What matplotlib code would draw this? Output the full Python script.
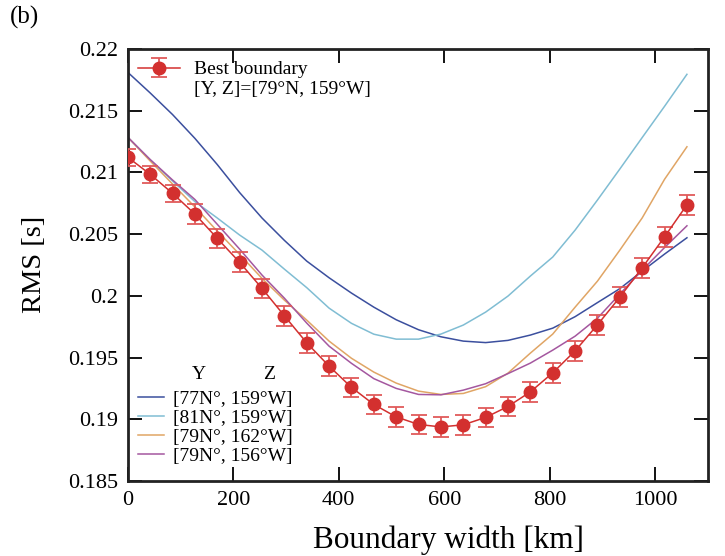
import matplotlib
matplotlib.use("Agg")
import matplotlib.pyplot as plt
from matplotlib.lines import Line2D

plt.rcParams['font.family'] = ['Liberation Serif', 'DejaVu Serif']
plt.rcParams['mathtext.fontset'] = 'stix'

width_km = [0, 42.4, 84.8, 127.2, 169.6, 212.0, 254.4, 296.8, 339.2, 381.6,
            424.0, 466.4, 508.8, 551.2, 593.6, 636.0, 678.4, 720.8, 763.2, 805.6,
            848.0, 890.4, 932.8, 975.2, 1017.6, 1060.0]

best_rms = [0.21122, 0.20984, 0.20830, 0.20662, 0.20465, 0.20271, 0.20060, 0.19838,
            0.19619, 0.19430, 0.19258, 0.19120, 0.19019, 0.18958, 0.18938, 0.18955,
            0.19015, 0.19104, 0.19222, 0.19376, 0.19554, 0.19765, 0.19989, 0.20227,
            0.20478, 0.20737]
best_err = [0.0007, 0.0007, 0.0007, 0.0008, 0.0008, 0.0008, 0.0008, 0.0008, 0.0008,
            0.0008, 0.0008, 0.0008, 0.0008, 0.0008, 0.0008, 0.0008, 0.0008, 0.0008,
            0.0008, 0.0008, 0.0008, 0.0008, 0.0008, 0.0008, 0.0008, 0.0008]

rms_77N_159W = [0.21810, 0.21643, 0.21468, 0.21275, 0.21063, 0.20836, 0.20630, 0.20449,
                0.20281, 0.20146, 0.20022, 0.19908, 0.19806, 0.19725, 0.19668, 0.19633,
                0.19621, 0.19639, 0.19682, 0.19738, 0.19831, 0.19945, 0.20058, 0.20200,
                0.20338, 0.20470]
rms_81N_159W = [0.21284, 0.21100, 0.20930, 0.20763, 0.20630, 0.20492, 0.20370, 0.20216,
                0.20066, 0.19900, 0.19777, 0.19689, 0.19649, 0.19649, 0.19690, 0.19763,
                0.19868, 0.19998, 0.20160, 0.20314, 0.20532, 0.20776, 0.21027, 0.21282,
                0.21535, 0.21794]
rms_79N_162W = [0.21284, 0.21092, 0.20905, 0.20719, 0.20524, 0.20335, 0.20141, 0.19965,
                0.19803, 0.19633, 0.19494, 0.19382, 0.19293, 0.19228, 0.19201, 0.19209,
                0.19264, 0.19374, 0.19536, 0.19690, 0.19908, 0.20119, 0.20370, 0.20631,
                0.20944, 0.21207]
rms_79N_156W = [0.21284, 0.21104, 0.20938, 0.20780, 0.20579, 0.20378, 0.20168, 0.19981,
                0.19779, 0.19592, 0.19453, 0.19329, 0.19250, 0.19201, 0.19198, 0.19236,
                0.19288, 0.19370, 0.19455, 0.19560, 0.19673, 0.19819, 0.20014, 0.20208,
                0.20391, 0.20567]

curve_labels = ['[77N°, 159°W]', '[81N°, 159°W]', '[79N°, 162°W]', '[79N°, 156°W]']
curve_colors = ['#3b4f9e', '#80bdd3', '#e0a565', '#a4579f']
best_label_lines = ['Best boundary', '[Y, Z]=[79°N, 159°W]']
legend_title_parts = ['Y', 'Z']

x_ticks = [0, 200, 400, 600, 800, 1000]
y_ticks = [0.185, 0.19, 0.195, 0.2, 0.205, 0.21, 0.215, 0.22]
y_ticklabels = ['0.185', '0.19', '0.195', '0.2', '0.205', '0.21', '0.215', '0.22']

fig = plt.figure(figsize=(7.25, 5.56), dpi=100)
ax = fig.add_axes([0.1763, 0.1349, 0.8003, 0.7772])

curves = [rms_77N_159W, rms_81N_159W, rms_79N_162W, rms_79N_156W]
line_handles = []
for vals, lab, col in zip(curves, curve_labels, curve_colors):
    h, = ax.plot(width_km, vals, color=col, lw=1.1, label=lab)
    line_handles.append(h)

eb = ax.errorbar(width_km, best_rms, yerr=best_err, color='#d3302f', ecolor='#e05a5a',
                 marker='o', markersize=9, lw=1.1, elinewidth=1.3, capsize=5.5,
                 capthick=1.3, zorder=5)

ax.set_xlim(0, 1100)
ax.set_ylim(0.185, 0.22)
ax.set_xticks(x_ticks)
ax.set_yticks(y_ticks)
ax.set_yticklabels(y_ticklabels)
ax.tick_params(direction='in', length=10, width=1.3, top=True, right=True,
               labelsize=16, pad=7)
for s in ax.spines.values():
    s.set_linewidth(2.0)
    s.set_color('#222222')

ax.set_xlabel('Boundary width [km]', fontsize=22.5)
ax.xaxis.set_label_coords(0.553, -0.102)
ax.set_ylabel('RMS [s]', fontsize=20.5)
ax.yaxis.set_label_coords(-0.139, 0.502)

blank = Line2D([], [], linestyle='none', marker=None, visible=False)
leg1 = ax.legend(handles=[eb, blank], labels=best_label_lines, loc='upper left',
                 frameon=False, fontsize=14, bbox_to_anchor=(-0.0126, 1.013),
                 handlelength=2.16, handletextpad=0.72, labelspacing=0.12)
ax.add_artist(leg1)

leg2 = ax.legend(handles=line_handles, loc='lower left', frameon=False, fontsize=14,
                 bbox_to_anchor=(-0.012, -0.003), handlelength=1.3, handletextpad=0.5,
                 labelspacing=0.07)
ax.text(0.1227, 0.247, legend_title_parts[0], transform=ax.transAxes, fontsize=14,
        ha='center', va='center')
ax.text(0.2434, 0.247, legend_title_parts[1], transform=ax.transAxes, fontsize=14,
        ha='center', va='center')

fig.text(0.014, 0.968, '(b)', fontsize=18, ha='left', va='center')

fig.savefig('out.png', dpi=100)
